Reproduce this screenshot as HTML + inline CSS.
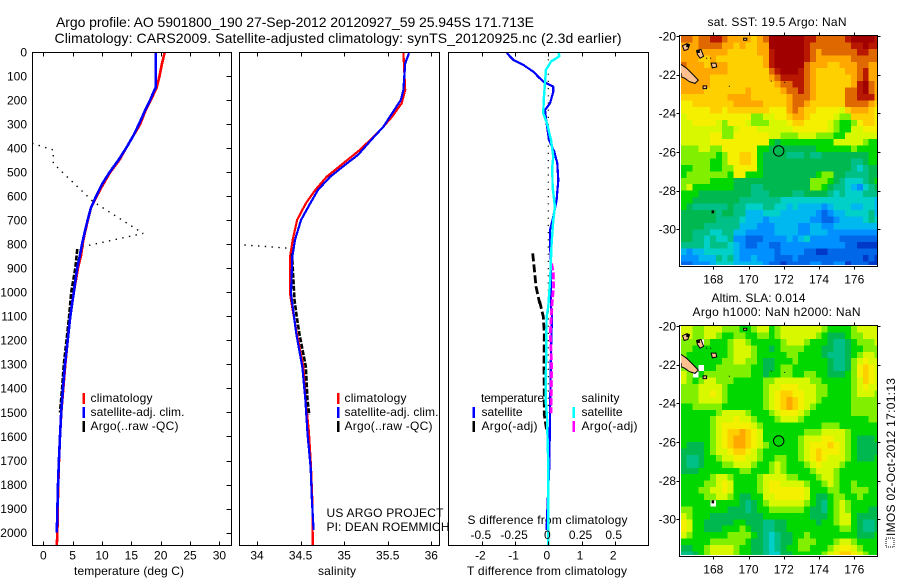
<!DOCTYPE html>
<html>
<head>
<meta charset="utf-8">
<title>Argo profile</title>
<style>
html,body{margin:0;padding:0;background:#fff;}
svg{display:block;}
text{font-family:"Liberation Sans",sans-serif;font-size:12px;fill:#000;}
</style>
</head>
<body>
<svg id="fig" xmlns="http://www.w3.org/2000/svg" width="900" height="580" viewBox="0 0 900 580">
<defs>
<clipPath id="clip-t"><rect x="32" y="52" width="200" height="494"/></clipPath>
<clipPath id="clip-s"><rect x="239" y="52" width="201" height="494"/></clipPath>
<clipPath id="clip-d"><rect x="448" y="52" width="201" height="494"/></clipPath>
<clipPath id="clip-map1"><rect x="681" y="36" width="196" height="229"/></clipPath>
<clipPath id="clip-map2"><rect x="681" y="326" width="196" height="229"/></clipPath>
</defs>
<text x="56" y="27" font-size="14" style="font-size:14px" textLength="478" lengthAdjust="spacing">Argo profile: AO 5901800_190 27-Sep-2012 20120927_59 25.945S 171.713E</text>
<text x="54.5" y="43" style="font-size:14px" textLength="567" lengthAdjust="spacing">Climatology: CARS2009. Satellite-adjusted climatology: synTS_20120925.nc (2.3d earlier)</text>

<text x="74" y="575" textLength="110" lengthAdjust="spacing">temperature (deg C)</text>
<text x="318" y="575" textLength="38" lengthAdjust="spacing">salinity</text>
<text x="467" y="575" textLength="160" lengthAdjust="spacing">T difference from climatology</text>
<text x="467.5" y="524" textLength="160" lengthAdjust="spacing">S difference from climatology</text>

<g id="layer-plots"></g>
<g id="layer-maps"></g>

<g>
<rect x="82.5" y="393" width="2.5" height="11" fill="#f00"/>
<rect x="82.5" y="407" width="2.5" height="11" fill="#00f"/>
<rect x="82.5" y="421" width="2.5" height="11" fill="#000"/>
<text x="90.5" y="402" textLength="62" lengthAdjust="spacing">climatology</text>
<text x="90.5" y="416" textLength="94" lengthAdjust="spacing">satellite-adj. clim.</text>
<text x="90.5" y="430" textLength="88" lengthAdjust="spacing">Argo(..raw -QC)</text>
</g>
<g>
<rect x="337" y="393" width="2.5" height="11" fill="#f00"/>
<rect x="337" y="407" width="2.5" height="11" fill="#00f"/>
<rect x="337" y="421" width="2.5" height="11" fill="#000"/>
<text x="344.5" y="402" textLength="62" lengthAdjust="spacing">climatology</text>
<text x="344.5" y="416" textLength="94" lengthAdjust="spacing">satellite-adj. clim.</text>
<text x="344.5" y="430" textLength="88" lengthAdjust="spacing">Argo(..raw -QC)</text>
</g>
<text x="326.5" y="517" textLength="117" lengthAdjust="spacing">US ARGO PROJECT</text>
<text x="326.5" y="531" textLength="123" lengthAdjust="spacing">PI: DEAN ROEMMICH</text>
<g>
<text x="481" y="402" textLength="63" lengthAdjust="spacing">temperature</text>
<text x="581.5" y="402" textLength="38" lengthAdjust="spacing">salinity</text>
<rect x="472.5" y="407" width="2.5" height="11" fill="#00f"/>
<rect x="472.5" y="421" width="2.5" height="11" fill="#000"/>
<rect x="572.5" y="407" width="2.5" height="11" fill="#0ff"/>
<rect x="572.5" y="421" width="2.5" height="11" fill="#f0f"/>
<text x="481.5" y="416" textLength="41" lengthAdjust="spacing">satellite</text>
<text x="481.5" y="430" textLength="56" lengthAdjust="spacing">Argo(-adj)</text>
<text x="581.5" y="416" textLength="41" lengthAdjust="spacing">satellite</text>
<text x="581.5" y="430" textLength="56" lengthAdjust="spacing">Argo(-adj)</text>
</g>

<text x="707.5" y="26" textLength="139" lengthAdjust="spacing">sat. SST: 19.5 Argo: NaN</text>
<text x="711.5" y="302" textLength="94" lengthAdjust="spacing">Altim. SLA: 0.014</text>
<text x="692.5" y="316" textLength="168" lengthAdjust="spacing">Argo h1000: NaN h2000: NaN</text>

<rect x="886" y="538" width="8" height="9" fill="none" stroke="#000" stroke-width="1" stroke-dasharray="1 1"/>
<text transform="translate(895,536) rotate(-90)" x="0" y="0" textLength="158" lengthAdjust="spacing">IMOS 02-Oct-2012 17:01:13</text>
</svg>

<script>
/* ---------- axis tick values ---------- */
const depthTicks = [0,100,200,300,400,500,600,700,800,900,1000,1100,1200,1300,1400,1500,1600,1700,1800,1900,2000];
const tempTicks = [0,5,10,15,20,25,30];
const salTicks = [34,34.5,35,35.5,36];
const salTickLabels = ['34','34.5','35','35.5','36'];
const diffTicks = [-2,-1,0,1,2];
const sDiffTicks = [-0.5,-0.25,0,0.25,0.5];
const sDiffTickLabels = ['-0.5','-0.25','0','0.25','0.5'];
const lonTicks = [168,170,172,174,176];
const latTicks = [-20,-22,-24,-26,-28,-30];

/* ---------- temperature profile ---------- */
const climTempDepth = [0,50,100,150,200,250,300,350,400,450,500,550,600,650,700,750,800,850,900,1000,1100,1200,1300,1400,1500,1600,1700,1800,1900,2000,2060];
const climTemp = [20.7,20.2,19.8,19.3,18.3,17.3,16.5,15.3,14.1,12.95,11.4,10.2,9.1,8.1,7.6,7.1,6.7,6.4,5.9,5.2,4.55,4.15,3.75,3.4,3.07,2.85,2.67,2.55,2.45,2.4,2.28];
const satTempDepth = [0,150,155,200,250,300,350,400,450,500,550,600,650,700,750,800,850,900,1000,1100,1200,1300,1400,1500,1600,1700,1800,1900,2000];
const satTemp = [19.15,19.15,19.0,18.2,17.2,16.3,15.3,14.1,12.8,11.3,10.0,9.0,8.1,7.55,7.05,6.6,6.2,5.75,5.2,4.6,4.15,3.7,3.35,3.05,2.85,2.65,2.5,2.4,2.3];
const argoTempDepth = [820,900,1000,1100,1200,1300,1400,1500];
const argoTemp = [5.8,5.45,4.75,4.4,3.95,3.5,3.2,2.85];
const rawTempDepth = [380,408,463,518,623,755,810];
const rawTemp = [-1.9,1.7,1.7,4,8.5,17,6.8];

/* ---------- salinity profile ---------- */
const climSalDepth = [3,158,213,269,311,366,408,463,519,574,630,699,782,852,1005,1032,1170,1309,1448,1587,1726,1864,2052];
const climSal = [35.68,35.70,35.66,35.55,35.45,35.30,35.18,34.99,34.80,34.67,34.56,34.46,34.41,34.38,34.38,34.39,34.455,34.53,34.56,34.597,34.62,34.635,34.64];
const satSalDepth = [5,47,158,200,255,311,366,428,470,519,574,630,699,782,852,1005,1060,1170,1309,1448,1587,1726,1864,1990];
const satSal = [35.744,35.70,35.68,35.65,35.55,35.45,35.31,35.16,35.01,34.84,34.70,34.61,34.505,34.436,34.405,34.39,34.41,34.45,34.52,34.555,34.58,34.615,34.63,34.65];
const argoSalDepth = [838,1032,1101,1170,1309,1448,1510];
const argoSal = [34.40,34.43,34.455,34.485,34.56,34.58,34.60];
const rawSalDepth = [803,817];
const rawSal = [33.855,34.38];

/* ---------- difference panel ---------- */
const diffTempDepth = [5,33,54,82,103,123,144,165,214,241,297,366,415,463,533,616,685,741,824,893,1060,1101,1240,1517,1726,1878,1989];
const diffTemp = [-1.25,-1.05,-0.75,-0.45,-0.3,-0.15,0.15,0.15,0.05,-0.1,-0.05,0.02,0.18,0.27,0.3,0.25,0.15,0.05,0.06,0.08,0.08,0.11,0.08,0.05,0.03,-0.02,-0.05];
const diffSalDepth = [5,17,40,75,130,200,255,297,366,436,477,560,644,699,796,935,1060,1101,1448,1517,1726,2052];
const diffSal = [0.075,0.085,0.02,-0.018,-0.025,-0.035,-0.0375,-0.01,0.02,0.0375,0.03,0.0325,0.05,0.0375,0.025,0.015,0,-0.0125,-0.02,-0.01,0,0];
const diffArgoTempDepth = [838,907,976,1046,1032,1101,1170,1309,1448,1510,1573];
const diffArgoTemp = [-0.47,-0.42,-0.37,-0.26,-0.27,-0.15,-0.12,-0.13,-0.12,-0.12,-0.05];
const diffArgoSalDepth = [880,921,976,1032,1101,1170,1309,1503];
const diffArgoSal = [0.025,0.0375,0.04,0.03,0.0225,0.015,0.025,0.02];
const zeroLineDepth = [0,1500];
const zeroLine = [0,0];

/* ---------- map grids (colour level per 1/3 degree cell) ---------- */
const sstGrid = [
[13,13,12,13,13,14,14,13,12,12,12,12,11,12,13,15,15,15,15,15,15,14,14,13,13,13,13,13,14,15,15,15,15,14],
[12,12,12,13,13,13,13,12,12,11,12,11,11,12,12,15,15,15,15,15,15,14,13,13,13,13,13,13,13,14,14,15,14,14],
[12,12,12,12,12,12,12,12,11,11,11,11,11,12,12,14,15,15,15,15,15,14,13,12,13,13,13,13,13,13,14,14,13,13],
[12,12,12,11,11,12,11,11,11,11,11,11,11,11,12,14,15,15,15,15,15,14,13,12,12,12,12,12,12,13,13,13,13,13],
[13,12,12,12,11,12,12,12,11,11,11,11,11,11,12,14,15,15,15,15,15,13,12,12,12,11,11,12,12,12,13,13,12,12],
[12,12,12,12,12,12,12,12,11,11,11,11,11,11,11,13,14,15,15,15,14,13,12,11,11,11,11,11,12,12,13,14,12,12],
[12,12,12,12,12,11,11,11,11,11,11,11,11,11,11,12,13,14,14,14,14,13,12,11,11,11,11,11,11,12,13,14,12,12],
[12,12,12,12,12,11,11,11,11,11,11,11,11,11,11,11,12,13,13,14,14,13,12,11,11,11,11,11,11,12,14,15,13,12],
[12,12,12,12,11,11,11,11,11,11,11,12,11,11,11,11,11,12,13,13,14,13,12,11,11,11,11,11,13,13,14,15,13,12],
[11,11,11,11,11,11,11,11,12,12,12,12,11,11,11,11,11,11,12,13,13,13,12,11,11,11,11,11,13,13,14,14,14,12],
[10,10,11,11,11,11,11,11,11,12,12,12,12,12,11,11,11,11,12,13,13,12,11,11,11,11,11,11,13,13,13,13,12,11],
[10,10,10,10,10,11,11,10,11,11,11,11,11,11,11,10,10,10,12,13,12,11,11,10,10,10,10,9,11,12,12,12,11,10],
[9,10,10,10,10,10,10,10,10,10,10,10,8,8,9,9,10,10,11,12,12,11,10,10,10,10,9,8,8,11,11,11,11,10],
[9,9,10,10,10,10,9,8,10,10,10,9,8,8,8,9,9,9,10,11,11,10,10,10,10,9,8,7,7,8,10,11,11,10],
[9,9,9,9,9,9,9,8,8,9,10,10,10,9,9,9,9,9,9,10,10,10,10,10,10,9,8,7,7,9,9,10,10,10],
[9,9,9,9,9,10,10,8,8,10,10,10,10,10,10,9,9,8,8,8,9,9,9,8,8,8,7,7,9,9,9,9,9,9],
[9,9,9,9,9,10,10,10,10,10,10,10,10,10,10,7,6,7,7,7,7,7,7,7,7,7,9,9,9,9,9,8,7,7],
[8,8,8,9,9,8,8,10,10,10,10,10,10,7,7,6,6,6,6,6,6,6,6,7,7,7,7,7,7,8,7,7,7,7],
[8,8,8,8,8,8,7,8,10,10,11,11,10,7,6,6,6,6,5,5,5,6,5,5,6,6,6,6,6,6,6,6,7,7],
[8,8,8,8,8,7,7,8,10,10,11,11,10,7,6,6,6,6,6,6,6,6,6,6,6,6,6,6,6,5,5,6,7,7],
[7,7,8,8,8,7,7,8,8,10,10,10,10,7,6,6,6,6,6,6,6,6,6,6,6,6,6,6,6,5,4,5,6,6],
[7,8,8,8,8,8,8,8,7,10,10,7,7,7,6,6,6,6,6,6,6,6,6,7,8,8,6,6,5,5,5,5,6,6],
[8,8,8,8,8,7,7,7,7,6,6,6,6,6,6,6,6,6,6,6,6,6,8,8,8,7,6,5,4,4,4,5,6,7],
[8,9,7,7,7,7,7,7,7,6,6,6,5,5,6,6,6,6,6,6,6,6,8,8,7,6,5,5,4,3,2,4,5,6],
[7,7,7,6,6,6,6,6,6,6,6,6,5,5,5,6,6,6,6,5,5,6,6,6,6,5,4,5,4,4,4,5,5,5],
[7,7,6,6,6,6,6,6,6,6,5,5,5,5,5,5,5,4,4,4,4,4,4,4,4,4,4,4,4,4,4,4,4,3],
[7,6,5,5,5,5,5,5,6,5,5,4,4,4,5,5,4,4,3,4,3,3,3,3,2,3,4,4,4,3,3,4,4,3],
[6,6,6,6,6,6,5,6,6,5,5,3,3,3,4,4,4,3,3,3,3,3,3,2,1,2,3,3,4,4,4,4,5,3],
[6,6,6,6,6,6,5,5,5,5,4,3,3,3,2,3,3,3,3,3,3,3,2,2,1,1,2,3,3,3,3,4,5,4],
[6,6,6,6,5,5,5,5,5,5,3,3,3,2,2,2,3,3,3,3,2,2,3,3,2,2,3,3,3,3,3,3,3,3],
[6,6,5,5,5,4,4,5,5,3,3,2,2,2,2,2,3,3,3,3,2,2,3,3,3,2,2,2,2,2,2,2,2,2],
[6,6,5,5,4,5,4,4,5,2,2,1,1,1,2,2,2,2,3,2,3,4,2,2,2,2,2,1,1,1,1,1,1,1],
[5,5,5,5,4,5,5,5,4,3,2,1,1,2,2,1,1,2,2,2,2,2,2,2,2,2,2,2,1,1,0,0,0,0],
[3,2,3,3,4,4,4,4,4,3,2,2,2,2,2,2,1,2,2,2,2,1,1,0,0,1,1,1,1,1,1,1,1,1],
[2,2,2,3,3,3,5,4,5,3,2,2,3,2,2,2,1,1,1,2,1,1,1,1,1,1,1,1,1,1,1,0,1,0],
[1,1,2,2,2,3,4,4,4,3,3,3,3,3,2,1,1,0,1,1,1,1,2,2,1,1,2,2,0,1,1,1,0,0]
];
const slaGrid = [
[9,9,8,8,9,9,9,8,8,8,7,7,8,9,9,7,8,9,9,9,9,9,9,9,8,7,7,7,7,8,9,9,9,9],
[9,9,8,8,9,9,8,7,7,8,8,7,7,8,8,7,8,9,9,9,9,9,9,8,7,6,6,6,7,8,8,9,9,9],
[8,8,8,null,8,7,7,7,8,9,9,8,7,7,7,7,7,8,9,9,9,8,7,7,7,6,5,5,6,7,8,8,8,9],
[8,8,7,7,7,7,7,7,8,9,9,9,8,7,7,6,7,8,8,8,8,7,7,7,6,6,5,5,6,7,7,8,8,8],
[8,7,7,7,7,7,7,7,8,9,9,9,8,7,7,7,7,7,8,8,7,7,7,7,6,5,5,5,6,7,8,9,9,8],
[8,7,7,7,7,7,7,8,8,9,9,8,8,7,6,6,7,7,7,8,7,7,7,7,7,6,5,5,6,8,9,10,9,9],
[8,7,7,null,7,7,8,8,8,8,8,8,7,7,6,6,7,8,8,7,7,7,7,7,7,6,5,5,6,8,10,11,10,9],
[9,8,null,7,8,8,8,8,8,8,8,8,7,7,6,7,7,8,8,7,7,8,8,7,7,6,6,6,7,8,10,11,10,9],
[9,8,7,8,9,9,8,8,8,7,7,7,7,7,8,8,9,9,9,9,9,9,8,8,7,7,7,7,7,8,9,11,10,9],
[8,8,8,9,9,9,9,8,7,7,7,7,7,7,8,9,9,10,10,10,9,9,9,8,8,7,7,7,7,8,9,10,9,9],
[8,8,8,9,9,10,9,8,7,7,7,7,7,7,8,9,10,11,11,10,10,9,9,8,8,7,7,7,7,8,9,9,9,8],
[8,8,8,9,9,9,9,8,7,7,7,7,7,7,8,9,10,11,12,11,10,9,9,8,7,7,7,7,7,8,8,8,8,8],
[7,7,8,8,8,8,8,7,7,7,7,7,7,7,8,9,10,11,12,11,10,9,8,7,7,7,7,7,7,8,8,8,8,8],
[7,7,7,7,7,7,8,9,9,9,9,8,7,7,7,8,9,10,10,10,9,8,7,7,7,7,7,7,7,8,8,8,8,8],
[7,7,7,7,7,8,9,9,9,10,9,9,8,7,7,7,8,9,9,9,8,7,7,7,7,7,7,7,7,7,7,7,8,8],
[7,7,7,7,7,8,9,10,10,10,10,10,9,8,7,7,7,7,7,7,7,7,7,7,8,8,8,7,7,7,7,7,7,7],
[7,7,7,7,7,8,9,10,11,11,12,11,10,9,7,7,7,7,7,7,7,8,8,8,9,9,9,9,8,7,7,7,7,7],
[7,7,7,7,7,8,9,10,11,12,12,11,10,9,7,7,7,7,7,7,8,9,9,9,10,10,9,9,8,7,6,6,6,7],
[7,6,6,6,7,8,9,10,11,12,12,11,10,9,8,7,7,7,7,7,8,9,10,10,10,11,10,9,8,7,6,6,6,6],
[6,6,6,6,7,8,9,9,10,11,11,10,9,8,7,7,7,7,7,7,8,9,10,11,10,10,10,9,8,7,6,6,6,6],
[6,5,5,6,7,7,8,9,9,10,10,9,9,8,7,7,8,8,7,7,8,9,10,11,10,9,9,9,8,7,6,6,6,7],
[6,5,5,6,7,7,7,8,8,9,9,9,8,7,7,8,9,8,7,7,7,8,9,10,9,9,9,8,7,7,7,7,7,7],
[6,6,6,7,7,7,7,7,7,7,8,8,7,7,7,8,9,8,7,7,7,7,8,9,9,9,8,7,7,7,7,7,7,7],
[7,7,7,7,7,8,9,9,8,7,7,7,7,8,9,9,9,9,8,8,7,7,7,8,9,9,8,7,7,7,7,7,7,7],
[7,7,7,7,8,8,9,10,9,7,7,7,7,8,9,10,10,9,9,9,9,8,7,7,8,9,8,7,7,8,7,7,7,7],
[7,7,7,8,8,9,9,10,9,7,7,7,7,8,9,10,10,10,10,10,10,9,7,7,7,8,8,7,7,8,8,8,7,7],
[7,7,7,7,8,8,9,9,8,7,6,6,7,7,9,9,10,10,10,10,10,9,7,6,6,7,8,8,7,7,8,7,7,7],
[7,7,7,7,7,null,7,7,7,7,6,5,6,7,8,9,9,9,9,9,9,8,7,6,5,7,8,9,8,7,7,7,7,7],
[8,8,7,7,7,7,7,7,6,6,6,5,6,7,7,8,8,8,8,8,8,7,6,6,5,7,8,9,8,7,7,7,6,6],
[9,8,7,7,7,6,6,6,6,6,6,6,6,6,7,7,7,7,7,7,7,7,6,6,6,7,8,9,9,7,6,6,6,6],
[10,9,7,7,6,6,6,6,6,7,7,6,6,6,5,5,6,6,7,7,7,7,7,6,7,7,8,9,9,7,6,5,5,6],
[10,9,7,7,6,6,6,7,7,7,8,7,6,6,5,5,6,6,7,7,7,7,7,7,7,7,7,8,8,7,6,5,5,6],
[9,8,7,7,7,7,7,7,8,8,8,8,7,6,5,4,5,6,6,7,7,8,7,7,7,7,7,7,7,7,6,6,6,7],
[7,7,7,7,7,8,8,8,8,8,8,7,6,6,5,4,5,6,6,7,8,8,8,7,7,7,8,9,9,8,7,7,7,7],
[6,6,7,7,8,9,9,9,9,8,7,7,6,6,5,4,5,6,7,7,8,8,7,7,7,8,9,10,10,9,8,7,7,7],
[5,5,6,7,8,9,9,9,9,8,7,7,6,6,5,4,4,6,6,7,7,7,7,7,8,9,10,11,11,10,9,8,7,7]
];
const mapPalette = ['#0038c8','#0068e8','#0090ff','#00b8f0','#00d0c8','#00c088','#00b850','#00d800','#80f000','#d8f800','#f4f000','#ffd000','#ffa800','#e06800','#b81800','#a00000'];

/* ---------- coast and float position (lon, lat) ---------- */
const coastNewCaledonia = [[166.07,-21.41],[166.49,-21.67],[166.87,-22.02],[167.15,-22.28],[166.96,-22.45],[166.64,-22.36],[166.39,-22.19],[166.07,-22.07]];
const coastOuvea = [[166.25,-20.5],[166.5,-20.4],[166.65,-20.45],[166.55,-20.7],[166.35,-20.75]];
const coastLifou = [[167.05,-20.75],[167.3,-20.7],[167.45,-21.05],[167.25,-21.15],[167.1,-20.95]];
const coastMare = [[167.88,-21.4],[168.15,-21.4],[168.2,-21.6],[167.95,-21.65]];
const coastPines = [[167.42,-22.58],[167.62,-22.58],[167.62,-22.72],[167.42,-22.72]];
const coastIslet = [[169.72,-20.12],[169.9,-20.12],[169.9,-20.22],[169.72,-20.22]];
const blobLons = [166.55,166.12,167.15];
const blobLats = [-20.5,-22.0,-20.8];
const reefLons = [168.91,171.29,172.05,167.62,167.85];
const reefLats = [-22.6,-22.34,-22.4,-21.15,-21.15];
const norfolkLon = 167.96;
const norfolkLat = -29.07;
const floatLon = 171.713;
const floatLat = -25.945;

/* ---------- scales ---------- */
const NS = 'http://www.w3.org/2000/svg';
const plots = document.getElementById('layer-plots');
const maps = document.getElementById('layer-maps');
function yDepth(d){ return 52 + d * 0.2403; }
function xTemp(t){ return 43.3 + t * 5.87; }
function xSal(s){ return 257 + (s - 34) * 87.15; }
function xDiff(t){ return 548.3 + t * 33.2; }
function xDiffS(s){ return xDiff(s * 4); }
function xLon(lon){ return 713.3 + (lon - 168) * 17.62; }
function yLat(lat, top){ return top + (-20 - lat) * 19.33; }

function make(tag, attrs, parent){
  const el = document.createElementNS(NS, tag);
  for (const k in attrs) el.setAttribute(k, attrs[k]);
  parent.appendChild(el);
  return el;
}
function series(xs, ds, xf, color, width, dash, clip){
  const pts = xs.map(function(v, i){ return xf(v).toFixed(1) + ',' + yDepth(ds[i]).toFixed(1); }).join(' ');
  const attrs = {points: pts, fill: 'none', stroke: color, 'stroke-width': width, 'clip-path': 'url(#' + clip + ')', 'stroke-linejoin': 'bevel'};
  if (dash) attrs['stroke-dasharray'] = dash;
  else attrs['shape-rendering'] = 'crispEdges';
  return make('polyline', attrs, plots);
}
function tick(x1, y1, x2, y2, parent){
  return make('line', {x1: x1, y1: y1, x2: x2, y2: y2, stroke: '#000', 'stroke-width': 1, 'shape-rendering': 'crispEdges'}, parent);
}
function label(str, x, y, anchor, parent){
  const t = make('text', {x: x, y: y, 'text-anchor': anchor}, parent);
  t.textContent = str;
  return t;
}
function frame(x, y, w, h, parent){
  return make('rect', {x: x, y: y, width: w, height: h, fill: 'none', stroke: '#000', 'stroke-width': 1, 'shape-rendering': 'crispEdges'}, parent);
}

/* ---------- profile series ---------- */
let s;
s = series(climTemp, climTempDepth, xTemp, '#f00', 2.6, null, 'clip-t');


s = series(argoTemp, argoTempDepth, xTemp, '#000', 2.6, '5 1.5', 'clip-t');


s = series(satTemp, satTempDepth, xTemp, '#00f', 2.6, null, 'clip-t');


s = series(rawTemp, rawTempDepth, xTemp, '#000', 1.4, '1.4 5.4', 'clip-t');



s = series(climSal, climSalDepth, xSal, '#f00', 2.2, null, 'clip-s');


s = series(argoSal, argoSalDepth, xSal, '#000', 2.6, '5 1.5', 'clip-s');


s = series(satSal, satSalDepth, xSal, '#00f', 2.2, null, 'clip-s');


s = series(rawSal, rawSalDepth, xSal, '#000', 1.4, '1.4 5.4', 'clip-s');



s = series(zeroLine, zeroLineDepth, xDiff, '#000', 1.2, '1.2 6', 'clip-d');


s = series(diffTemp, diffTempDepth, xDiff, '#00f', 2.2, null, 'clip-d');


s = series(diffArgoTemp, diffArgoTempDepth, xDiff, '#000', 2.8, '8 3', 'clip-d');


s = series(diffArgoSal, diffArgoSalDepth, xDiffS, '#f0f', 2.8, '7 2', 'clip-d');


s = series(diffSal, diffSalDepth, xDiffS, '#0ff', 2.4, null, 'clip-d');



/* ---------- profile axes ---------- */
let f;
f = frame(32.5, 52.5, 199, 493, plots);


f = frame(239.5, 52.5, 200, 493, plots);


f = frame(448.5, 52.5, 200, 493, plots);



depthTicks.forEach(function(d){
  const y = yDepth(d);
  const tk = tick(226.5, Math.round(y) + 0.5, 231.5, Math.round(y) + 0.5, plots);
  
  
  const lb = label(String(d), 27, y + 4.3, 'end', plots);
  
  
});
tempTicks.forEach(function(v){
  const x = Math.round(xTemp(v)) + 0.5;
  const a = tick(x, 52.5, x, 56.5, plots);
  
  
  const b = tick(x, 541.5, x, 545.5, plots);
  
  
  const lb = label(String(v), xTemp(v), 559.5, 'middle', plots);
  
  
});
salTicks.forEach(function(v, i){
  const x = Math.round(xSal(v)) + 0.5;
  const a = tick(x, 52.5, x, 56.5, plots);
  
  
  const b = tick(x, 541.5, x, 545.5, plots);
  
  
  const lb = label(salTickLabels[i], xSal(v), 559.5, 'middle', plots);
  
  
});
diffTicks.forEach(function(v){
  const x = Math.round(xDiff(v)) + 0.5;
  const a = tick(x, 52.5, x, 56.5, plots);
  
  
  const b = tick(x, 541.5, x, 545.5, plots);
  
  
  const lb = label(String(v), xDiff(v) - 1.5, 559.5, 'middle', plots);
  
  
});
sDiffTicks.forEach(function(v, i){
  const lb = label(sDiffTickLabels[i], xDiffS(v) - 1, 539, 'middle', plots);
  
  
});

/* ---------- maps ---------- */
function drawMap(grid, top, clipId){
  const g = make('g', {'clip-path': 'url(#' + clipId + ')'}, maps);
  
  
  const step = 1 / 3;
  grid.forEach(function(row, r){
    row.forEach(function(level, c){
      if (level === null) return;
      const lon0 = 166.15 + c * step;
      const lat0 = -20 - r * step;
      const x0 = xLon(lon0), x1 = xLon(lon0 + step), y0 = yLat(lat0, top), y1 = yLat(lat0 - step, top);
      const cell = make('rect', {x: x0.toFixed(2), y: y0.toFixed(2), width: (x1 - x0 + 0.4).toFixed(2), height: (y1 - y0 + 0.4).toFixed(2), fill: mapPalette[level], 'shape-rendering': 'crispEdges'}, g);
      
      
    });
  });
  [coastNewCaledonia, coastOuvea, coastLifou, coastMare, coastPines, coastIslet].forEach(function(poly){
    const pts = poly.map(function(p){ return xLon(p[0]).toFixed(1) + ',' + yLat(p[1], top).toFixed(1); }).join(' ');
    const land = make('polygon', {points: pts, fill: '#ffc090', stroke: '#000', 'stroke-width': 1}, g);
    
    
  });
  blobLons.forEach(function(lon, i){
    const blob = make('rect', {x: xLon(lon) - 1.5, y: yLat(blobLats[i], top) - 1.5, width: 3, height: 3, fill: '#000'}, g);
    
    
  });
  reefLons.forEach(function(lon, i){
    const reef = make('rect', {x: xLon(lon) - 0.5, y: yLat(reefLats[i], top) - 0.5, width: 1, height: 1, fill: '#000'}, g);
    
    
  });
  const nf = make('rect', {x: xLon(norfolkLon) - 1, y: yLat(norfolkLat, top) - 1, width: 2.5, height: 3, fill: '#000'}, g);
  
  
  const fl = make('circle', {cx: xLon(floatLon).toFixed(1), cy: yLat(floatLat, top).toFixed(1), r: 5.2, fill: 'none', stroke: '#000', 'stroke-width': 1}, maps);
  
  
  const box = frame(679.5, top - 1 + 0.5, 198, 231, maps);
  
  
  lonTicks.forEach(function(lon){
    const x = Math.round(xLon(lon)) + 0.5;
    const a = tick(x, top - 3.5, x, top - 0.5, maps);
    
    
    const b = tick(x, top + 230.5, x, top + 233.5, maps);
    
    
    const lb = label(String(lon), xLon(lon), top + 247.5, 'middle', maps);
    
    
  });
  latTicks.forEach(function(lat){
    const y = Math.round(yLat(lat, top)) + 0.5;
    const a = tick(676.5, y, 679.5, y, maps);
    
    
    const b = tick(877.5, y, 880.5, y, maps);
    
    
    const lb = label(String(lat), 676, yLat(lat, top) + 4.3, 'end', maps);
    
    
  });
}
drawMap(sstGrid, 36, 'clip-map1');
drawMap(slaGrid, 326, 'clip-map2');
</script>
</body>
</html>
